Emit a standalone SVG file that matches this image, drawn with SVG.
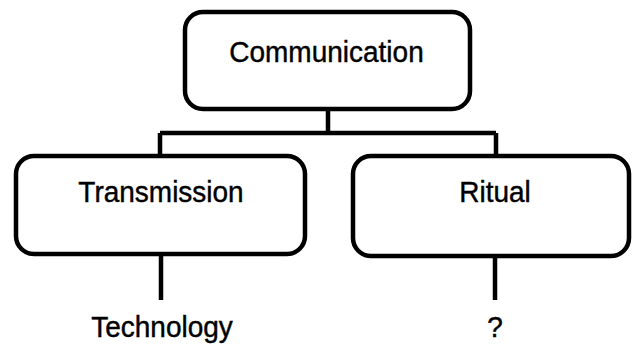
<svg xmlns="http://www.w3.org/2000/svg" width="632" height="345" viewBox="0 0 632 345">
<style>
.box{fill:#fff;stroke:#000;stroke-width:4.5}
.t{font-family:"Liberation Sans",Arial,sans-serif;font-size:28px;fill:#000;stroke:#000;stroke-width:0.4;text-anchor:middle}
.c{stroke:#000;stroke-width:4.5;fill:none}
</style>
<rect width="632" height="345" fill="#fff"/>
<g id="connectors">
<path class="c" d="M328,110 V133 M160,133 H496 M160,133 V156 M496,133 V156 M161,255 V300 M495,257 V300"/>
</g>
<g id="communication">
<rect class="box" x="185" y="12" width="285" height="97" rx="18"/>
<text class="t" transform="translate(326.5,62) scale(1,1.08)">Communication</text>
</g>
<g id="transmission">
<rect class="box" x="16" y="156" width="289" height="98" rx="18"/>
<text class="t" transform="translate(161,202) scale(1,1.08)">Transmission</text>
</g>
<g id="ritual">
<rect class="box" x="353" y="156" width="276" height="100" rx="18"/>
<text class="t" transform="translate(495,202) scale(1,1.08)">Ritual</text>
</g>
<g id="technology">
<text class="t" transform="translate(162,337) scale(1,1.08)">Technology</text>
</g>
<g id="unknown">
<text class="t" transform="translate(495,337) scale(1,1.08)">?</text>
</g>
</svg>
